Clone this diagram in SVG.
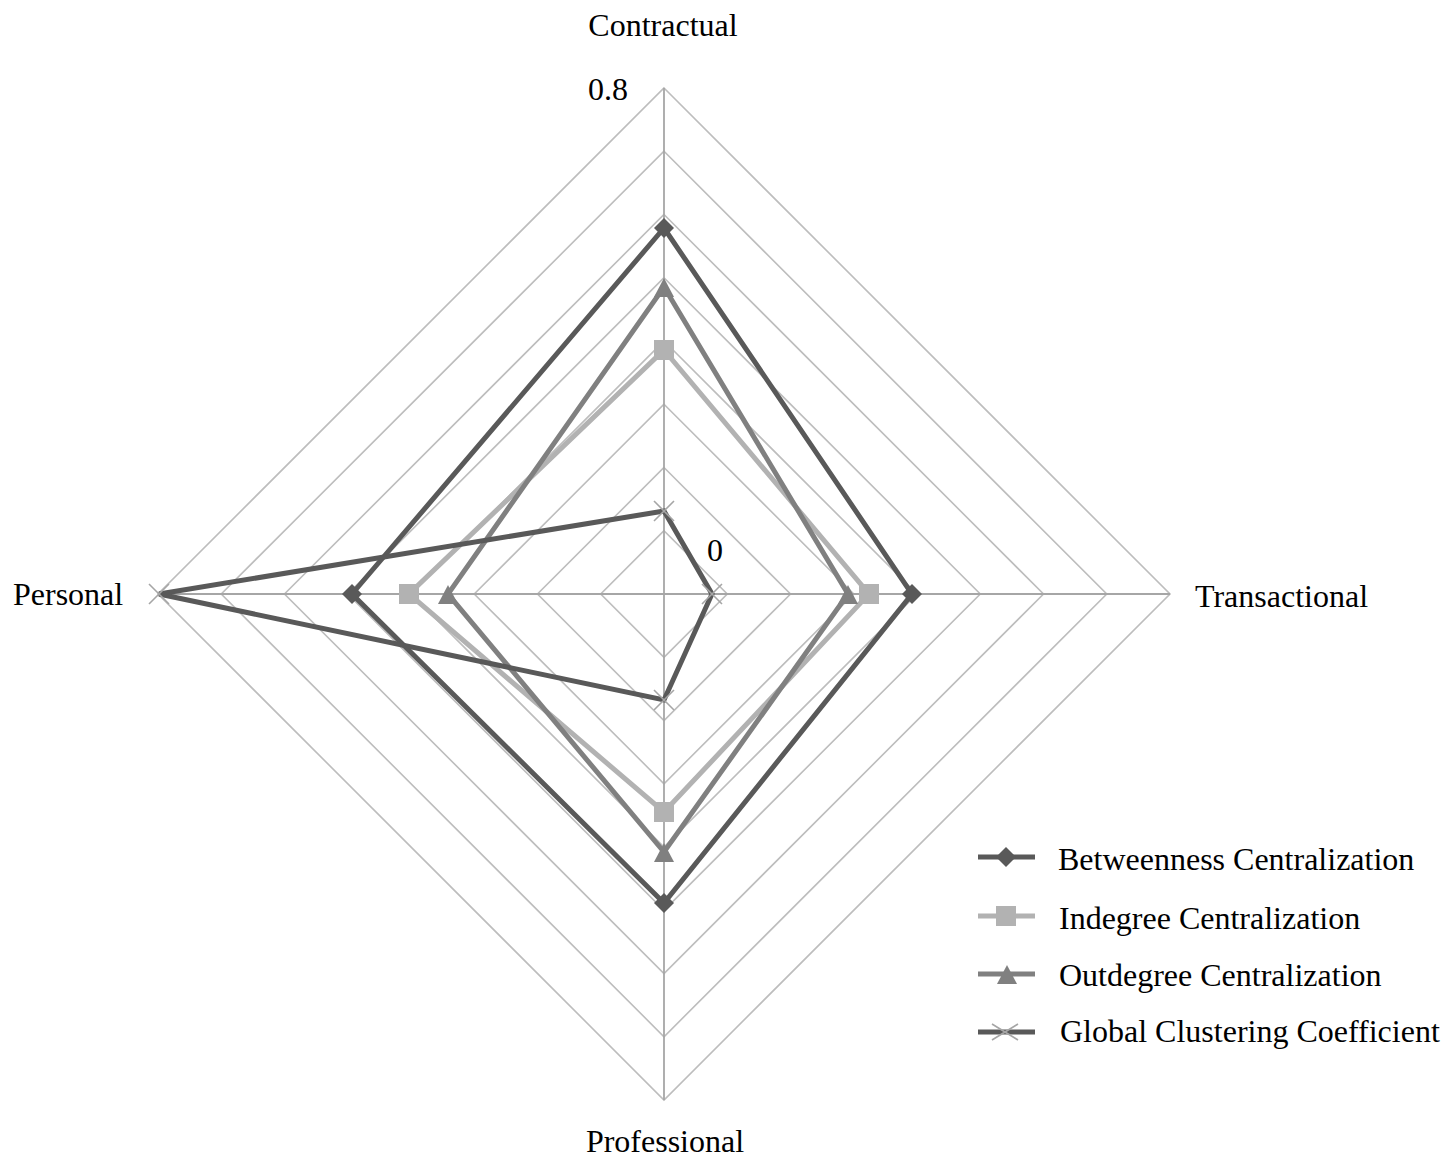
<svg xmlns="http://www.w3.org/2000/svg" width="1451" height="1160" viewBox="0 0 1451 1160">
  <style>
    text { font-family: "Liberation Serif", "Times New Roman", serif; font-size: 32px; fill: #000; }
    .ring { fill: none; stroke: #bdbdbd; stroke-width: 1.6; }
    .axis { stroke: #a6a6a6; stroke-width: 1.8; }
    .s-btw { fill: none; stroke: #595959; stroke-width: 5; stroke-linejoin: miter; }
    .s-in { fill: none; stroke: #b2b2b2; stroke-width: 5; }
    .s-out { fill: none; stroke: #808080; stroke-width: 5; }
    .s-gcc { fill: none; stroke: #595959; stroke-width: 5; }
    .m-btw { fill: #595959; }
    .m-in { fill: #b2b2b2; }
    .m-out { fill: #808080; }
    .m-gcc { fill: none; stroke: #a6a6a6; stroke-width: 1.6; }
  </style>
  <defs>
    <path id="diamond" d="M0,-10 L10,0 L0,10 L-10,0 Z"/>
    <rect id="square" x="-10" y="-10" width="20" height="20"/>
    <path id="triangle" d="M0,-11 L10,8 L-10,8 Z"/>
    <path id="cross" d="M-10,-10 L10,10 M10,-10 L-10,10"/>
    <path id="cross-wide" d="M-13,-8 L13,8 M13,-8 L-13,8"/>
  </defs>

  <rect width="1451" height="1160" fill="#fff"/>

  <!-- grid: eight rings, 0.1 apart, centre (664,594) -->
  <g id="grid">
    <polygon class="ring" points="664,530.75 727.25,594 664,657.25 600.75,594"/>
    <polygon class="ring" points="664,467.5 790.5,594 664,720.5 537.5,594"/>
    <polygon class="ring" points="664,404.25 853.75,594 664,783.75 474.25,594"/>
    <polygon class="ring" points="664,341 917,594 664,847 411,594"/>
    <polygon class="ring" points="664,277.75 980.25,594 664,910.25 347.75,594"/>
    <polygon class="ring" points="664,214.5 1043.5,594 664,973.5 284.5,594"/>
    <polygon class="ring" points="664,151.25 1106.75,594 664,1036.75 221.25,594"/>
    <polygon class="ring" points="664,88 1170,594 664,1100 158,594"/>
    <line class="axis" x1="664" y1="88" x2="664" y2="1100"/>
    <line class="axis" x1="158" y1="594" x2="1170" y2="594"/>
  </g>

  <!-- axis labels -->
  <g id="labels">
    <text x="663" y="36" text-anchor="middle">Contractual</text>
    <text x="1195" y="607">Transactional</text>
    <text x="665" y="1152" text-anchor="middle">Professional</text>
    <text x="13" y="605">Personal</text>
    <text x="588" y="100">0.8</text>
    <text x="707" y="561">0</text>
  </g>

  <!-- data series -->
  <g id="series">
    <g id="betweenness">
      <polygon class="s-btw" points="664,228 912,594 664,903 352,594"/>
      <use href="#diamond" class="m-btw" x="664" y="228"/>
      <use href="#diamond" class="m-btw" x="912" y="594"/>
      <use href="#diamond" class="m-btw" x="664" y="903"/>
      <use href="#diamond" class="m-btw" x="352" y="594"/>
    </g>
    <g id="indegree">
      <polygon class="s-in" points="664,350 869,594 664,812 409,594"/>
      <use href="#square" class="m-in" x="664" y="350"/>
      <use href="#square" class="m-in" x="869" y="594"/>
      <use href="#square" class="m-in" x="664" y="812"/>
      <use href="#square" class="m-in" x="409" y="594"/>
    </g>
    <g id="outdegree">
      <polygon class="s-out" points="664,287 848,594 664,852 448,594"/>
      <use href="#triangle" class="m-out" x="664" y="289"/>
      <use href="#triangle" class="m-out" x="848" y="596"/>
      <use href="#triangle" class="m-out" x="664" y="854"/>
      <use href="#triangle" class="m-out" x="448" y="596"/>
    </g>
    <g id="clustering">
      <polygon class="s-gcc" points="664,511 712,594 664,700 159,594"/>
      <use href="#cross" class="m-gcc" x="664" y="511"/>
      <use href="#cross" class="m-gcc" x="712" y="594"/>
      <use href="#cross" class="m-gcc" x="664" y="700"/>
      <use href="#cross" class="m-gcc" x="159" y="594"/>
    </g>
  </g>

  <!-- legend -->
  <g id="legend">
    <g id="legend-btw">
      <line class="s-btw" x1="978" y1="857" x2="1035" y2="857"/>
      <use href="#diamond" class="m-btw" x="1006" y="857"/>
      <text x="1058" y="870">Betweenness Centralization</text>
    </g>
    <g id="legend-in">
      <line class="s-in" x1="978" y1="916" x2="1035" y2="916"/>
      <use href="#square" class="m-in" x="1006" y="916"/>
      <text x="1059" y="929">Indegree Centralization</text>
    </g>
    <g id="legend-out">
      <line class="s-out" x1="978" y1="974" x2="1035" y2="974"/>
      <use href="#triangle" class="m-out" x="1007" y="976"/>
      <text x="1059" y="986">Outdegree Centralization</text>
    </g>
    <g id="legend-gcc">
      <line class="s-gcc" x1="978" y1="1032" x2="1035" y2="1032"/>
      <use href="#cross-wide" class="m-gcc" x="1005" y="1032"/>
      <text x="1060" y="1042">Global Clustering Coefficient</text>
    </g>
  </g>
</svg>
